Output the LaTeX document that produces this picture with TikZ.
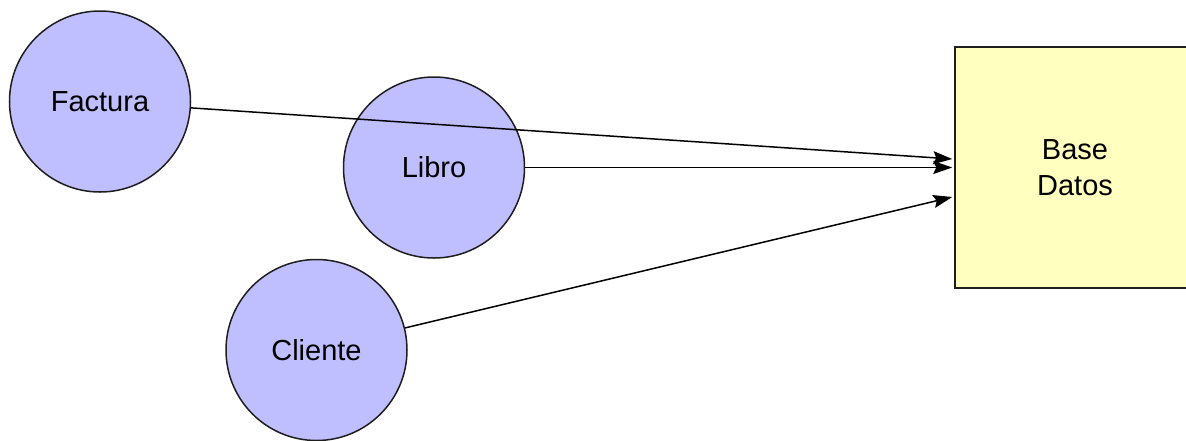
\documentclass[tikz,border=0pt]{standalone}
\usepackage{fontspec}
\setmainfont{Liberation Sans}
\usetikzlibrary{arrows.meta,calc}
\definecolor{entfill}{RGB}{191,191,255}
\definecolor{dbfill}{RGB}{255,255,192}
\definecolor{edge}{RGB}{30,30,30}
\tikzset{
  ent/.style={circle, draw=edge, line width=1.5pt, fill=entfill,
    minimum size=181pt, inner sep=0pt, font=\fontsize{29}{35}\selectfont},
  store/.style={rectangle, draw=edge, line width=1.5pt, fill=dbfill,
    minimum width=240pt, minimum height=241pt, inner sep=0pt, align=center,
    font=\fontsize{29}{36}\selectfont},
  flow/.style={draw=black, line width=1.5pt,
    -{Stealth[length=19pt,width=13pt,inset=3pt]}}
}
\begin{document}
\begin{tikzpicture}[x=1pt,y=-1pt]
  \useasboundingbox (0,0) rectangle (1186,440);
  % data store
  \node[store] (db) at (1075,167.5) {Base\\Datos};
  % entities
  \node[ent] (factura) at (100,101.5) {Factura};
  \node[ent] (libro) at (434,167.5) {Libro};
  \node[ent] (cliente) at (316.5,350) {Cliente};
  % arrow targets on the left side of the store
  \coordinate (inF) at ($(db.west)+(-2,-8.5)$);
  \coordinate (inL) at ($(db.west)+(-2,0)$);
  \coordinate (inC) at ($(db.west)+(-2,29.5)$);
  % flows
  \draw[flow] (factura.-4) -- (inF);
  \draw[flow] (libro.east) -- (inL);
  \draw[flow] (cliente.14) -- (inC);
\end{tikzpicture}
\end{document}
